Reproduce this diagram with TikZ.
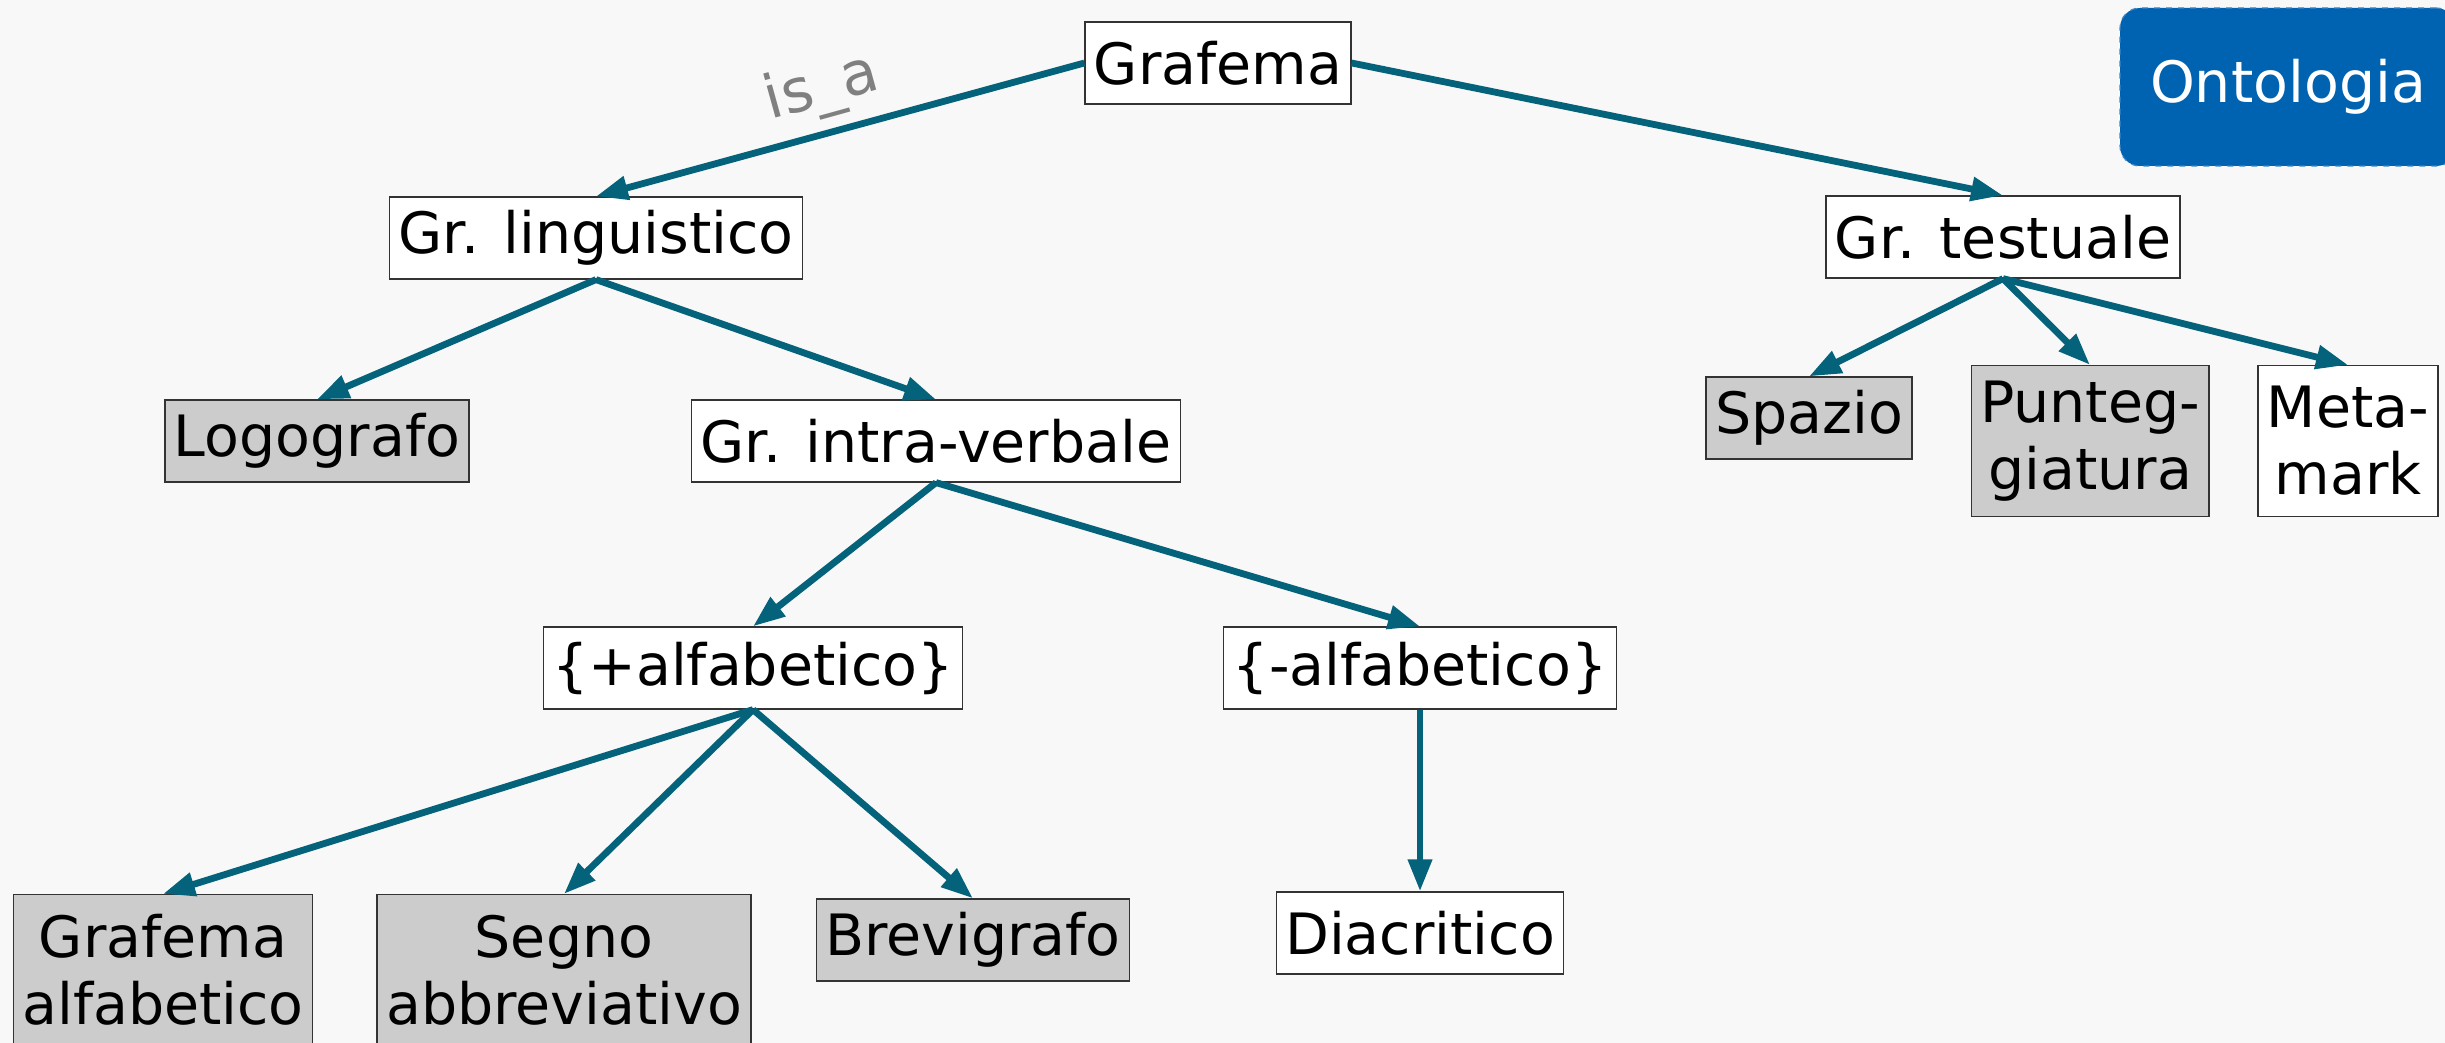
\documentclass[tikz,border=0pt]{standalone}
\usepackage{fontspec}
\setmainfont{DejaVu Sans}
\usetikzlibrary{arrows.meta}
\definecolor{bg}{HTML}{F8F8F8}
\definecolor{edgec}{HTML}{05627B}
\definecolor{grayfill}{HTML}{CCCCCC}
\definecolor{ontoblue}{HTML}{0063B1}
\definecolor{ontoborder}{HTML}{3C86C8}
\begin{document}
\begin{tikzpicture}[x=0.5pt,y=-0.5pt,
  every node/.style={font=\fontsize{28.5}{33.5}\selectfont},
  concept/.style={draw=black!80, line width=0.6pt, fill=white, inner xsep=4.5pt, inner ysep=3pt, minimum height=41pt, align=center},
  leaf/.style={concept, fill=grayfill},
  twoline/.style={minimum height=75.5pt},
  isa/.style={draw=edgec, line width=3.4pt, -{Triangle[length=16pt,width=11.5pt]}, shorten <=0pt},
  ]
\fill[bg] (0,0) rectangle (2445,1043);
\useasboundingbox (0,0) rectangle (2445,1043);

\node[concept] (graf) at (1218,63) {Grafema};
\node[concept] (ling) at (596,238) {Gr. linguistico};
\node[concept] (test) at (2003,237) {Gr. testuale};
\node[leaf] (logo) at (317,441) {Logografo};
\node[concept] (intra) at (936,441) {Gr. intra-verbale};
\node[leaf] (spazio) at (1809,418) {Spazio};
\node[leaf,twoline] (punt) at (2090,441) {Punteg-\\giatura};
\node[concept,twoline] (meta) at (2348,441) {Meta-\\mark};
\node[concept] (plus) at (753,668) {\{+alfabetico\}};
\node[concept] (minus) at (1420,668) {\{-alfabetico\}};
\node[leaf,twoline] (grafalf) at (163,970) {Grafema\\alfabetico};
\node[leaf,twoline] (segno) at (564,970) {Segno\\abbreviativo};
\node[leaf] (brevi) at (973,940) {Brevigrafo};
\node[concept] (diacr) at (1420,933) {Diacritico};

\node[fill=ontoblue, draw=ontoborder, dashed, line width=0.6pt, rounded corners=10pt,
      minimum width=168pt, minimum height=79pt, text=white] (onto) at (2288,87) {Ontologia};

\node[text=gray, rotate=15.5, font=\fontsize{30}{34}\selectfont] (isalabel) at (822,89) {is\_a};

\draw[isa] (graf.west) -- (ling.north);
\draw[isa] (graf.east) -- (test.north);
\draw[isa] (ling.south) -- (logo.north);
\draw[isa] (ling.south) -- (intra.north);
\draw[isa] (test.south) -- (spazio.north);
\draw[isa] (test.south) -- (punt.north);
\draw[isa] (test.south) -- (meta.north);
\draw[isa] (intra.south) -- (plus.north);
\draw[isa] (intra.south) -- (minus.north);
\draw[isa] (plus.south) -- (grafalf.north);
\draw[isa] (plus.south) -- (segno.north);
\draw[isa] (plus.south) -- (brevi.north);
\draw[isa] (minus.south) -- (diacr.north);
\end{tikzpicture}
\end{document}
